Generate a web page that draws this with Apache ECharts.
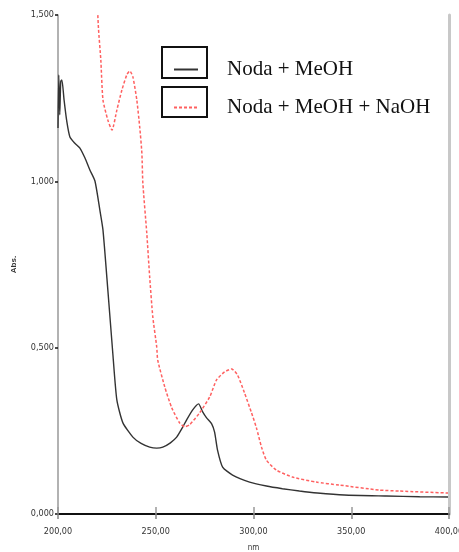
<!DOCTYPE html>
<html>
<head>
<meta charset="utf-8">
<script src="https://cdn.jsdelivr.net/npm/echarts@6/dist/echarts.min.js"></script>
<style>
  html, body { margin: 0; padding: 0; background: #fff; }
  #mainChart { width: 459px; height: 552px; }
</style>
</head>
<body>
<div id="mainChart"></div>
<script>
'use strict';

// wavelength (nm) and absorbance
var blackNm = [200.0, 200.4, 200.9, 201.4, 202.0, 203.1, 204.5, 206.1, 208.5, 211.2, 213.8, 216.3, 218.9, 221.4, 223.0, 225.5, 228.1, 230.1, 233.2, 238.3, 242.5, 246.9, 250.5, 253.6, 257.5, 260.7, 263.5, 265.8, 268.9, 271.9, 274.0, 276.0, 278.6, 280.1, 281.6, 284.2, 289.3, 298.0, 306.6, 314.8, 323.5, 332.7, 346.4, 367.9, 385.0, 399.5];
var blackAbs = [1.160, 1.320, 1.200, 1.300, 1.305, 1.245, 1.180, 1.133, 1.115, 1.100, 1.070, 1.034, 1.001, 0.914, 0.854, 0.673, 0.478, 0.343, 0.274, 0.231, 0.212, 0.201, 0.198, 0.201, 0.214, 0.231, 0.258, 0.283, 0.313, 0.331, 0.307, 0.289, 0.271, 0.246, 0.192, 0.141, 0.117, 0.096, 0.084, 0.076, 0.069, 0.063, 0.057, 0.054, 0.052, 0.051];

var redNm = [219.9, 220.7, 221.9, 223.0, 225.5, 227.6, 230.1, 232.7, 235.2, 236.7, 238.3, 240.3, 241.8, 242.9, 243.4, 245.4, 246.9, 248.5, 250.5, 251.0, 254.6, 258.2, 262.2, 264.8, 267.3, 272.4, 277.6, 281.1, 285.2, 288.8, 291.8, 295.4, 299.0, 301.5, 304.1, 306.6, 311.7, 319.9, 332.1, 343.9, 364.3, 374.5, 399.5];
var redAbs = [1.560, 1.460, 1.365, 1.245, 1.184, 1.154, 1.214, 1.275, 1.320, 1.332, 1.314, 1.245, 1.163, 1.085, 0.995, 0.845, 0.712, 0.592, 0.502, 0.463, 0.382, 0.319, 0.274, 0.262, 0.268, 0.304, 0.352, 0.403, 0.427, 0.436, 0.418, 0.364, 0.304, 0.259, 0.201, 0.162, 0.132, 0.111, 0.096, 0.087, 0.072, 0.069, 0.063];

var seriesNames = ['Noda + MeOH', 'Noda + MeOH + NaOH'];
var xTickLabels = ['200,00', '250,00', '300,00', '350,00', '400,00'];
var yTickLabels = ['0,000', '0,500', '1,000', '1,500'];

function pairs(xs, ys) {
    var out = [];
    for (var i = 0; i < xs.length; i++) {
        out.push([xs[i], ys[i]]);
    }
    return out;
}

var tickFont = "'DejaVu Sans Condensed', 'DejaVu Sans', sans-serif";

var myChart = echarts.init(document.getElementById('mainChart'));

var option = {
    animation: false,
    backgroundColor: '#fff',
    grid: { left: 58, right: 10, top: 15, bottom: 38, containLabel: false, outerBoundsMode: 'none' },
    legend: {
        orient: 'vertical',
        left: 168,
        top: 54,
        itemWidth: 24,
        itemHeight: 14,
        itemGap: 17,
        data: seriesNames,
        itemStyle: { opacity: 0 },
        textStyle: {
            fontFamily: "'Liberation Serif', 'Times New Roman', serif",
            fontSize: 21,
            color: '#111',
            padding: [0, 0, 0, 24]
        }
    },
    graphic: [
        { type: 'rect', shape: { x: 162, y: 47, width: 45, height: 31 }, style: { fill: 'none', stroke: '#111', lineWidth: 2 } },
        { type: 'rect', shape: { x: 162, y: 87, width: 45, height: 30 }, style: { fill: 'none', stroke: '#111', lineWidth: 2 } }
    ],
    xAxis: [{
        type: 'value',
        min: 200,
        max: 400,
        interval: 50,
        name: 'nm',
        nameLocation: 'middle',
        nameGap: 30,
        nameTextStyle: { fontSize: 8, color: '#333', fontFamily: tickFont },
        axisLine: { lineStyle: { color: '#333', width: 2 } },
        axisTick: { inside: true, length: 7, lineStyle: { color: '#999', width: 1.5 } },
        axisLabel: {
            margin: 13,
            fontSize: 9,
            color: '#333',
            fontFamily: tickFont,
            formatter: function(v) { return xTickLabels[Math.round((v - 200) / 50)]; }
        },
        splitLine: { show: false }
    }, {
        type: 'value',
        position: 'top',
        min: 200,
        max: 400,
        interval: 50,
        axisLine: { lineStyle: { color: '#111', width: 2 } },
        axisTick: { inside: true, length: 5, lineStyle: { color: '#888', width: 1.5 } },
        axisLabel: { show: false },
        splitLine: { show: false }
    }],
    yAxis: [{
        type: 'value',
        min: 0,
        max: 1.5,
        interval: 0.5,
        name: 'Abs.',
        nameLocation: 'middle',
        nameGap: 40,
        nameTextStyle: { fontSize: 8, fontWeight: 'bold', color: '#333', fontFamily: 'sans-serif' },
        axisLine: { show: true, lineStyle: { color: '#999', width: 1.5 } },
        axisTick: { show: true, length: 3, lineStyle: { color: '#111', width: 1.5 } },
        axisLabel: {
            margin: 4,
            fontSize: 9,
            color: '#333',
            fontFamily: tickFont,
            formatter: function(v) { return yTickLabels[Math.round(v / 0.5)]; }
        },
        splitLine: { show: false }
    }, {
        type: 'value',
        position: 'right',
        min: 0,
        max: 1.5,
        interval: 0.5,
        axisLine: { show: true, lineStyle: { color: '#c8c8c8', width: 3 } },
        axisTick: { show: false },
        axisLabel: { show: false },
        splitLine: { show: false }
    }],
    series: [{
        name: seriesNames[0],
        type: 'line',
        data: pairs(blackNm, blackAbs),
        symbol: 'none',
        smooth: 0.2,
        clip: true,
        lineStyle: { color: '#333', width: 1.4 },
        itemStyle: { color: '#333' }
    }, {
        name: seriesNames[1],
        type: 'line',
        data: pairs(redNm, redAbs),
        symbol: 'none',
        smooth: 0.2,
        clip: true,
        lineStyle: { color: '#ff6060', width: 1.5, type: [3, 2] },
        itemStyle: { color: '#ff6060' }
    }]
};

myChart.setOption(option);
</script>
</body>
</html>
